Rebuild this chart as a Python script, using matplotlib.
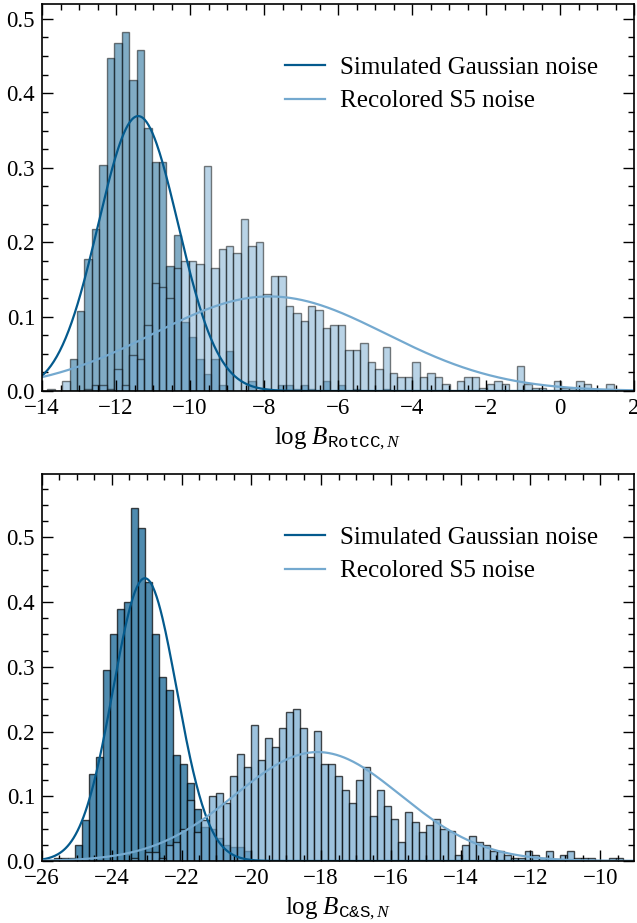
import numpy as np
import matplotlib
matplotlib.use("Agg")
import matplotlib.pyplot as plt
from matplotlib.ticker import MultipleLocator

plt.rcParams['font.family'] = ['Liberation Serif', 'DejaVu Serif']
plt.rcParams['mathtext.fontset'] = 'custom'
plt.rcParams['mathtext.rm'] = 'Liberation Serif'
plt.rcParams['mathtext.it'] = 'Liberation Serif:italic'
plt.rcParams['mathtext.tt'] = 'Liberation Mono'
plt.rcParams['axes.unicode_minus'] = True

# ---------------- data ----------------
labels = ["Simulated Gaussian noise", "Recolored S5 noise"]

# top panel (log B_RotCC,N)
top_bin_start = -13.86
top_bin_width = 0.2014
top_gauss = [0, 0, 0, 0.043, 0.108, 0.178, 0.218, 0.303, 0.448, 0.468,
             0.483, 0.418, 0.458, 0.353, 0.308, 0.308, 0.168, 0.209, 0.093, 0.073,
             0.043, 0.023, 0.043, 0.008, 0.054, 0.0, 0.0, 0.014, 0.0, 0.003,
             0.0, 0.008, 0.008, 0.003, 0.008, 0.003, 0.0, 0.014, 0.0, 0.008,
             0.0, 0.003, 0.0, 0.0, 0.0, 0.003]
top_s5 = [0.003, 0.0, 0.013, 0.0, 0.0, 0.003, 0.008, 0.008, 0.003, 0.029,
          0.008, 0.049, 0.043, 0.089, 0.145, 0.140, 0.125, 0.165, 0.175, 0.175,
          0.171, 0.302, 0.165, 0.191, 0.195, 0.185, 0.231, 0.195, 0.200, 0.130,
          0.155, 0.155, 0.114, 0.105, 0.094, 0.114, 0.109, 0.084, 0.089, 0.089,
          0.055, 0.055, 0.064, 0.039, 0.029, 0.059, 0.024, 0.019, 0.019, 0.039,
          0.019, 0.024, 0.019, 0.009, 0.0, 0.014, 0.019, 0.019, 0.004, 0.009,
          0.014, 0.009, 0.0, 0.034, 0.009, 0.004, 0.004, 0.0, 0.014, 0.004,
          0.004, 0.014, 0.009, 0.0, 0.0, 0.009]
top_fit_gauss = (-11.40, 1.08)   # (mean, std)
top_fit_s5 = (-7.85, 3.14)

# bottom panel (log B_C&S,N)
bot_bin_start = -25.66
bot_bin_width = 0.2015
bot_gauss = [0.004, 0.004, 0.004, 0.024, 0.064, 0.135, 0.160, 0.295, 0.350, 0.390,
             0.400, 0.546, 0.515, 0.431, 0.350, 0.285, 0.265, 0.164, 0.150, 0.120,
             0.080, 0.052, 0.049, 0.035, 0.024, 0.022, 0.022, 0.015]
bot_s5 = [0, 0, 0, 0, 0, 0, 0, 0, 0, 0,
          0, 0.004, 0, 0.014, 0.014, 0.004, 0.024, 0.030, 0.050, 0.095,
          0.045, 0.063, 0.100, 0.105, 0.090, 0.131, 0.166, 0.145, 0.210, 0.156,
          0.190, 0.176, 0.206, 0.231, 0.235, 0.206, 0.161, 0.201, 0.150, 0.150,
          0.131, 0.110, 0.090, 0.125, 0.145, 0.070, 0.110, 0.085, 0.065, 0.030,
          0.076, 0.060, 0.045, 0.055, 0.065, 0.049, 0.046, 0.009, 0.025, 0.039,
          0.030, 0.024, 0.016, 0.016, 0.009, 0.005, 0.005, 0.016, 0.009, 0.004,
          0.016, 0.003, 0.009, 0.016, 0.005, 0.005, 0.005, 0.0, 0.0, 0.005,
          0.005]
bot_fit_gauss = (-23.05, 0.913)
bot_fit_s5 = (-18.10, 2.37)

dark = '#045a8d'
light = '#74a9cf'


def edges(start, width, n):
    return start + width * np.arange(n + 1)


def gauss_pdf(x, mu, sd):
    return np.exp(-0.5 * ((x - mu) / sd) ** 2) / (sd * np.sqrt(2 * np.pi))


def panel(ax, start, width, hg, hs, fg, fs, xlim, ylim, alpha, xlabel):
    eg = edges(start, width, len(hg))
    es = edges(start, width, len(hs))
    ax.hist(0.5 * (eg[:-1] + eg[1:]), bins=eg, weights=hg, color=dark,
            alpha=alpha, edgecolor='k', linewidth=1.0)
    ax.hist(0.5 * (es[:-1] + es[1:]), bins=es, weights=hs, color=light,
            alpha=alpha, edgecolor='k', linewidth=1.0)
    x = np.linspace(xlim[0], xlim[1], 600)
    ax.plot(x, gauss_pdf(x, *fg), color=dark, lw=1.6, label=labels[0])
    ax.plot(x, gauss_pdf(x, *fs), color=light, lw=1.6, label=labels[1])
    ax.set_xlim(*xlim)
    ax.set_ylim(*ylim)
    ax.xaxis.set_major_locator(MultipleLocator(2))
    ax.xaxis.set_minor_locator(MultipleLocator(0.5))
    ax.yaxis.set_major_locator(MultipleLocator(0.1))
    ax.yaxis.set_minor_locator(MultipleLocator(0.025))
    ax.tick_params(which='both', direction='in', top=True, right=True,
                   labelsize=16.5, width=1.0, colors='k')
    ax.tick_params(which='major', length=8, pad=5)
    ax.tick_params(which='minor', length=4)
    for s in ax.spines.values():
        s.set_linewidth(1.2)
    ax.set_xlabel(xlabel, fontsize=18, labelpad=5)
    ax.legend(loc='upper right', bbox_to_anchor=(0.956, 0.891), frameon=False,
              fontsize=18, handlelength=1.6, handletextpad=0.6,
              labelspacing=0.45, borderaxespad=0)


fig = plt.figure(figsize=(6.37, 9.23), dpi=100)
ax1 = fig.add_axes([42 / 637, 1 - 391 / 923, 592 / 637, 387 / 923])
ax2 = fig.add_axes([42 / 637, 1 - 861 / 923, 592 / 637, 387 / 923])

panel(ax1, top_bin_start, top_bin_width, top_gauss, top_s5,
      top_fit_gauss, top_fit_s5, (-14, 2), (0, 0.52), 0.5,
      r'$\log\,B_{\mathtt{RotCC},N}$')
panel(ax2, bot_bin_start, bot_bin_width, bot_gauss, bot_s5,
      bot_fit_gauss, bot_fit_s5, (-26, -9.03), (0, 0.598), 0.7,
      r'$\log\,B_{\mathtt{C&S},N}$')

fig.savefig('out.png', dpi=100)
